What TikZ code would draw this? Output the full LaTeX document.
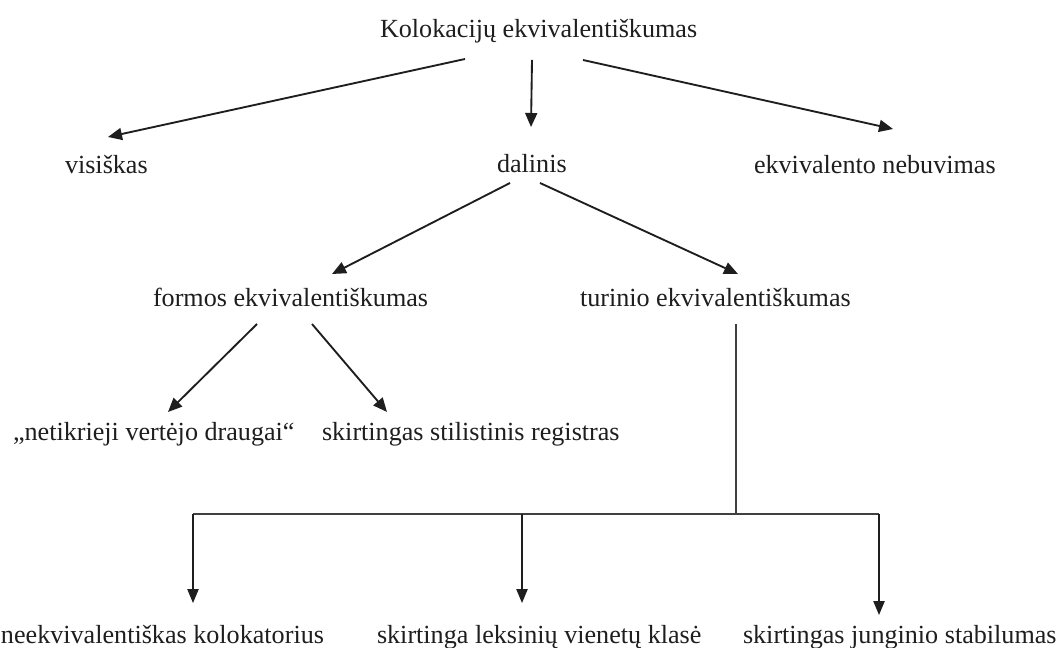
\documentclass[tikz,border=0pt]{standalone}
\usepackage{fontspec}
\setmainfont{Liberation Serif}
\usetikzlibrary{arrows.meta,calc}
\definecolor{ink}{HTML}{1E1E1E}
\tikzset{
  lbl/.style={inner sep=0pt, outer sep=0pt, anchor=base west, text=ink,
    font=\fontsize{19.6pt}{22pt}\selectfont},
  arr/.style={draw=ink, line width=1.4pt, -{Triangle[length=10.5pt,width=9pt]}},
  bar/.style={draw=ink!85, line width=1pt},
  vbar/.style={draw=ink, line width=1pt, -{Triangle[length=10.5pt,width=8.5pt]}}
}
\begin{document}
\begin{tikzpicture}[x=0.75pt,y=-0.75pt]
\useasboundingbox[fill=white] (0,0) rectangle (1059,648);
% nodes
\node[lbl] (T) at (380,38) {Kolokacijų ekvivalentiškumas};
\node[lbl] (V) at (65,174) {visiškas};
\node[lbl] (D) at (497,173) {dalinis};
\node[lbl] (E) at (754,174) {ekvivalento nebuvimas};
\node[lbl] (F) at (153,306) {formos ekvivalentiškumas};
\node[lbl] (U) at (580,306) {turinio ekvivalentiškumas};
\node[lbl] (N) at (13,440) {„netikrieji vertėjo draugai“};
\node[lbl] (S) at (322,440) {skirtingas stilistinis registras};
\node[lbl] (B1) at (1,643) {neekvivalentiškas kolokatorius};
\node[lbl] (B2) at (377,643) {skirtinga leksinių vienetų klasė};
\node[lbl] (B3) at (743,643) {skirtingas junginio stabilumas};
% level 1
\draw[arr] ($(T.base west)+(85,21)$) -- ($(V.base west)+(43,-37)$);
\draw[arr] ($(T.base west)+(152,22)$) -- ($(D.base west)+(34,-46)$);
\draw[arr] ($(T.base west)+(203,22)$) -- ($(E.base west)+(139,-45)$);
% level 2
\draw[arr] ($(D.base west)+(13,10)$) -- ($(F.base west)+(179,-32)$);
\draw[arr] ($(D.base west)+(43,10)$) -- ($(U.base west)+(158,-32)$);
% level 3
\draw[arr] ($(F.base west)+(104,18)$) -- ($(N.base west)+(155,-28)$);
\draw[arr] ($(F.base west)+(159,18)$) -- ($(S.base west)+(65,-28)$);
% bracket
\coordinate (jn) at ($(U.base west)+(156,208)$);
\coordinate (t1) at ($(B1.base west)+(192,-40)$);
\coordinate (t2) at ($(B2.base west)+(145,-40)$);
\coordinate (t3) at ($(B3.base west)+(136,-28)$);
\draw[bar] ($(U.base west)+(156,18)$) -- (jn);
\draw[bar] (t1 |- jn) -- (t3 |- jn);
\draw[vbar] (t1 |- jn) -- (t1);
\draw[vbar] (t2 |- jn) -- (t2);
\draw[vbar] (t3 |- jn) -- (t3);
\end{tikzpicture}
\end{document}
